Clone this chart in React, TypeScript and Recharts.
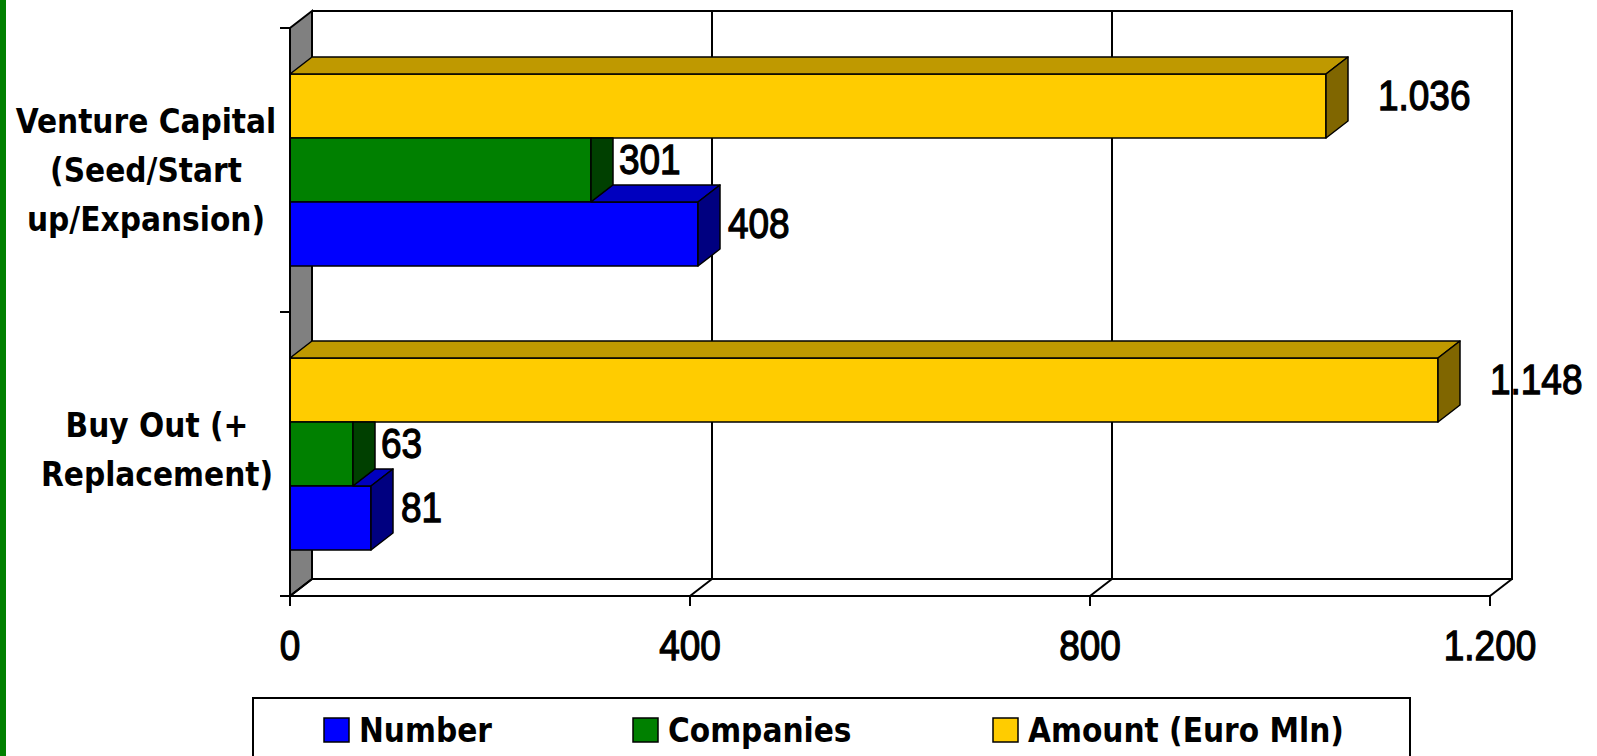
import { BarChart, Bar, XAxis, YAxis, CartesianGrid, LabelList, Customized } from 'recharts';

// categories, one line per row of the wrapped label
const CATEGORIES = ['Venture Capital\n(Seed/Start\nup/Expansion)', 'Buy Out (+\nReplacement)'];
const NUMBER = [408, 81];
const COMPANIES = [301, 63];
const AMOUNT = [1036, 1148];
const X_TICKS = [0, 400, 800, 1200];

const data = CATEGORIES.map((name, i) => ({
  name,
  number: NUMBER[i],
  companies: COMPANIES[i],
  amount: AMOUNT[i],
}));

// chart frame (front plane of the 3d box)
const WIDTH = 1597;
const HEIGHT = 756;
const PLOT_LEFT = 290;
const PLOT_TOP = 28;
const PLOT_RIGHT = 1490;
const PLOT_BOTTOM = 596;
const X_AXIS_H = 60;
const DX = 22; // depth offset of the 3d effect
const DY = 17;

const NUM_FONT = '"Liberation Sans", Arial, sans-serif';
const TXT_FONT = '"DejaVu Sans Condensed", "DejaVu Sans", sans-serif';
const NUM_SIZE = 42;
const NUM_SQUEEZE = 0.88; // the numbers in the original are narrow and tall

// series drawn top to bottom inside each category; `above` is the bar sitting over it
const SERIES = [
  { key: 'amount', name: 'Amount (Euro Mln)', front: '#FFCC00', top: '#BF9900', side: '#806600', above: null, gap: 30 },
  { key: 'companies', name: 'Companies', front: '#008000', top: '#006000', side: '#004000', above: 'amount', gap: 6 },
  { key: 'number', name: 'Number', front: '#0000FF', top: '#0000BF', side: '#000080', above: 'companies', gap: 8 },
];
const LEGEND_ORDER = ['number', 'companies', 'amount'];
const LEGEND_X = [324, 633, 993];

// nudges for the wrapped category labels
const CATEGORY_LABEL_SHIFT = [{ dx: 0, dy: 0 }, { dx: 11, dy: -5 }];

const fmt = (n: number) => String(n).replace(/\B(?=(\d{3})+(?!\d))/g, '.');

function pts(list: number[][]) {
  return list.map(p => p.join(',')).join(' ');
}

function NumText({ x, y, anchor = 'start', children }: any) {
  return (
    <text
      transform={`translate(${x},${y}) scale(${NUM_SQUEEZE},1)`}
      textAnchor={anchor}
      fontFamily={NUM_FONT}
      fontSize={NUM_SIZE}
      fill="#000"
      stroke="#000"
      strokeWidth={1.3}
    >
      {children}
    </text>
  );
}

function makeBarShape(s: typeof SERIES[number]) {
  return (props: any) => {
    const { x, y, width, height, payload } = props;
    const v = payload[s.key];
    if (!v || width <= 0) return <g />;
    const unit = width / v;
    const xe = x + width;
    const y1 = y;
    const y2 = y + height;
    const aboveEnd = s.above ? x + payload[s.above] * unit : null;
    const xs = aboveEnd == null ? x : Math.min(aboveEnd, xe);
    const sideHidden = aboveEnd != null && aboveEnd >= xe + DX / 2;
    const side = sideHidden
      ? [[xe, y1], [xe + DX, y1], [xe + DX, y2 - DY], [xe, y2]]
      : [[xe, y1], [xe + DX, y1 - DY], [xe + DX, y2 - DY], [xe, y2]];
    return (
      <g stroke="#000" strokeWidth={1.5} strokeLinejoin="round">
        <rect x={x} y={y1} width={width} height={height} fill={s.front} />
        {xs < xe && (
          <polygon points={pts([[xs, y1], [xs + DX, y1 - DY], [xe + DX, y1 - DY], [xe, y1]])} fill={s.top} />
        )}
        <polygon points={pts(side)} fill={s.side} />
      </g>
    );
  };
}

function makeLabel(s: typeof SERIES[number]) {
  return (props: any) => {
    const { x, y, width, height, value } = props;
    const tx = x + width + DX + s.gap;
    const ty = y + height / 2 - 11 + 15;
    return <NumText x={tx} y={ty}>{fmt(value)}</NumText>;
  };
}

const XTick = (props: any) => {
  const { x, payload } = props;
  return (
    <g>
      <line x1={x} y1={PLOT_BOTTOM} x2={x + DX} y2={PLOT_BOTTOM - DY} stroke="#000" strokeWidth={2} />
      <NumText x={x} y={660} anchor="middle">{fmt(payload.value)}</NumText>
    </g>
  );
};

const YTick = (props: any) => {
  const { y, payload, index } = props;
  const band = (PLOT_BOTTOM - PLOT_TOP) / CATEGORIES.length;
  const lines = String(payload.value).split('\n');
  const shift = CATEGORY_LABEL_SHIFT[index] || { dx: 0, dy: 0 };
  const lh = 49;
  return (
    <g>
      <line x1={PLOT_LEFT - 10} y1={y - band / 2} x2={PLOT_LEFT} y2={y - band / 2} stroke="#000" strokeWidth={2} />
      <line x1={PLOT_LEFT - 10} y1={y + band / 2} x2={PLOT_LEFT} y2={y + band / 2} stroke="#000" strokeWidth={2} />
      {lines.map((line, i) => (
        <text
          key={i}
          x={146 + shift.dx}
          y={y + (i - (lines.length - 1) / 2) * lh + 12 + shift.dy}
          textAnchor="middle"
          fontFamily={TXT_FONT}
          fontWeight="bold"
          fontSize={33}
          fill="#000"
        >
          {line}
        </text>
      ))}
    </g>
  );
};

// gray side wall, top and right edges of the back wall, back line of the floor
function Walls() {
  const l = PLOT_LEFT, t = PLOT_TOP, r = PLOT_RIGHT, b = PLOT_BOTTOM;
  return (
    <g stroke="#000" strokeWidth={2} fill="none">
      <polygon points={pts([[l, t], [l + DX, t - DY], [l + DX, b - DY], [l, b]])} fill="#808080" />
      <polyline points={pts([[l + DX, t - DY], [r + DX, t - DY], [r + DX, b - DY], [l + DX, b - DY]])} />
    </g>
  );
}

function LegendBox() {
  return (
    <g>
      <rect x={253} y={698} width={1157} height={80} fill="#fff" stroke="#000" strokeWidth={2} />
      {LEGEND_ORDER.map((key, i) => {
        const s = SERIES.find(d => d.key === key)!;
        return (
          <g key={key}>
            <rect x={LEGEND_X[i]} y={718} width={25} height={24} fill={s.front} stroke="#000" strokeWidth={1.5} />
            <text x={LEGEND_X[i] + 35} y={742} fontFamily={TXT_FONT} fontWeight="bold" fontSize={33} fill="#000">
              {s.name}
            </text>
          </g>
        );
      })}
    </g>
  );
}

export default function App() {
  return (
    <div style={{ position: 'absolute', left: 0, top: 0, width: WIDTH, height: HEIGHT, background: '#fff' }}>
      <div style={{ position: 'absolute', left: 0, top: 0, width: 6, height: HEIGHT, background: '#008000' }} />
      <BarChart
        width={WIDTH}
        height={HEIGHT}
        data={data}
        layout="vertical"
        margin={{ top: PLOT_TOP, right: WIDTH - PLOT_RIGHT, bottom: HEIGHT - PLOT_BOTTOM - X_AXIS_H, left: 0 }}
        barCategoryGap="16.2%"
        barGap={0}
      >
        <CartesianGrid
          x={PLOT_LEFT + DX}
          y={PLOT_TOP - DY}
          width={PLOT_RIGHT - PLOT_LEFT}
          height={PLOT_BOTTOM - PLOT_TOP}
          stroke="#000"
          strokeWidth={2}
          horizontal={false}
          verticalCoordinatesGenerator={({ offset }: any) =>
            X_TICKS.map(t => offset.left + (t / X_TICKS[X_TICKS.length - 1]) * offset.width + DX)
          }
        />
        <Customized component={<Walls />} />
        <XAxis
          type="number"
          domain={[0, X_TICKS[X_TICKS.length - 1]]}
          ticks={X_TICKS}
          interval={0}
          height={X_AXIS_H}
          tickSize={10}
          axisLine={{ stroke: '#000', strokeWidth: 2 }}
          tickLine={{ stroke: '#000', strokeWidth: 2 }}
          tick={XTick}
        />
        <YAxis
          type="category"
          dataKey="name"
          width={PLOT_LEFT}
          interval={0}
          axisLine={{ stroke: '#000', strokeWidth: 2 }}
          tickLine={false}
          tick={YTick}
        />
        {SERIES.map(s => (
          <Bar key={s.key} dataKey={s.key} name={s.name} fill={s.front} isAnimationActive={false} shape={makeBarShape(s)}>
            <LabelList dataKey={s.key} content={makeLabel(s)} />
          </Bar>
        ))}
        <Customized component={<LegendBox />} />
      </BarChart>
    </div>
  );
}
